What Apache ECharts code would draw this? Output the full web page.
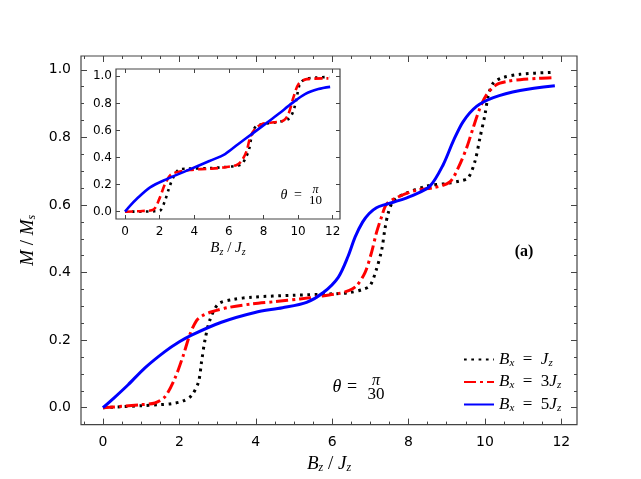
<!DOCTYPE html>
<html>
<head>
<meta charset="utf-8">
<script src="https://cdn.jsdelivr.net/npm/echarts@6/dist/echarts.min.js"></script>
</head>
<body style="margin: 0">
<div id="container" style="width: 641px; height: 479px"></div>
<script type="text/javascript">
    // main panel, theta = pi/30
    var mainJzX = [0, 0.5, 1.0, 1.5, 1.8, 2.1, 2.32, 2.5, 2.58, 2.67, 2.8, 3.02, 3.4, 3.89, 5.0, 6.0, 6.47, 6.8, 6.99, 7.16, 7.3, 7.38, 7.47, 7.6, 7.86, 8.47, 9.0, 9.35, 9.56, 9.74, 9.87, 10.0, 10.09, 10.22, 10.44, 10.92, 11.83];
    var mainJzY = [0, 0.003, 0.006, 0.009, 0.012, 0.02, 0.036, 0.076, 0.135, 0.2, 0.26, 0.307, 0.32, 0.327, 0.333, 0.337, 0.341, 0.35, 0.361, 0.41, 0.469, 0.528, 0.577, 0.612, 0.631, 0.656, 0.664, 0.671, 0.68, 0.73, 0.799, 0.867, 0.926, 0.961, 0.976, 0.987, 0.993];
    var main3JzX = [0, 0.5, 1.0, 1.36, 1.62, 1.88, 2.1, 2.28, 2.45, 2.6, 2.85, 3.3, 3.89, 4.5, 5.16, 5.7, 6.2, 6.45, 6.64, 6.86, 7.03, 7.16, 7.3, 7.42, 7.69, 8.21, 8.65, 9.08, 9.3, 9.52, 9.69, 9.87, 10.04, 10.3, 10.6, 10.92, 11.4, 11.83];
    var main3JzY = [0, 0.004, 0.009, 0.014, 0.032, 0.086, 0.154, 0.218, 0.258, 0.272, 0.284, 0.297, 0.307, 0.314, 0.322, 0.33, 0.339, 0.347, 0.361, 0.4, 0.459, 0.518, 0.567, 0.602, 0.622, 0.644, 0.651, 0.668, 0.71, 0.769, 0.828, 0.887, 0.926, 0.956, 0.966, 0.971, 0.975, 0.977];
    var main5JzX = [0, 0.3, 0.66, 1.1, 1.62, 2.0, 2.32, 3.1, 3.98, 4.7, 5.33, 5.77, 6.16, 6.42, 6.6, 6.8, 6.97, 7.16, 7.38, 7.6, 8.1, 8.56, 8.91, 9.17, 9.43, 9.78, 10.22, 10.92, 11.83];
    var main5JzY = [0, 0.03, 0.068, 0.118, 0.166, 0.195, 0.215, 0.253, 0.282, 0.296, 0.312, 0.341, 0.386, 0.449, 0.505, 0.55, 0.575, 0.592, 0.601, 0.608, 0.628, 0.656, 0.72, 0.789, 0.847, 0.892, 0.918, 0.939, 0.953];

    // inset, theta = pi/10
    var insetJzX = [0, 1.0, 1.7, 2.02, 2.31, 2.56, 2.79, 3.08, 3.6, 4.91, 5.8, 6.4, 6.74, 6.98, 7.17, 7.32, 7.45, 7.61, 8.0, 8.8, 9.44, 9.73, 9.92, 10.1, 10.4, 11.0, 11.8];
    var insetJzY = [0, 0.001, 0.003, 0.007, 0.081, 0.18, 0.254, 0.308, 0.318, 0.322, 0.33, 0.338, 0.352, 0.4, 0.463, 0.561, 0.61, 0.635, 0.648, 0.662, 0.684, 0.745, 0.844, 0.942, 0.979, 0.99, 0.995];
    var inset3JzX = [0, 1.0, 1.64, 2.02, 2.31, 2.7, 3.76, 5.0, 5.78, 6.45, 6.74, 7.03, 7.23, 7.51, 7.9, 8.6, 9.15, 9.44, 9.73, 10.02, 10.5, 11.75];
    var inset3JzY = [0, 0.005, 0.015, 0.106, 0.204, 0.278, 0.308, 0.318, 0.328, 0.345, 0.376, 0.45, 0.549, 0.61, 0.647, 0.66, 0.672, 0.721, 0.844, 0.942, 0.979, 0.985];
    var inset5JzX = [0, 0.3, 0.67, 1.45, 2.41, 3.57, 4.91, 5.78, 6.55, 7.32, 8.09, 8.86, 9.63, 10.4, 11.17, 11.85];
    var inset5JzY = [0, 0.045, 0.094, 0.18, 0.241, 0.303, 0.376, 0.426, 0.5, 0.573, 0.647, 0.721, 0.8, 0.869, 0.906, 0.922];

    // ticks
    var xMajor = [0, 2, 4, 6, 8, 10, 12];
    var xMinor = [-0.5, 0.5, 1, 1.5, 2.5, 3, 3.5, 4.5, 5, 5.5, 6.5, 7, 7.5, 8.5, 9, 9.5, 10.5, 11, 11.5, 12];
    var yMajor = [0, 0.2, 0.4, 0.6, 0.8, 1.0];
    var yMinor = [0.05, 0.1, 0.15, 0.25, 0.3, 0.35, 0.45, 0.5, 0.55, 0.65, 0.7, 0.75, 0.85, 0.9, 0.95];

    var legendNames = ["Bx = Jz", "Bx = 3Jz", "Bx = 5Jz"];
    var legendRich = ["{i|B}{s|x}{n|  =  }{i|J}{s|z}", "{i|B}{s|x}{n|  =  3}{i|J}{s|z}", "{i|B}{s|x}{n|  =  5}{i|J}{s|z}"];

    var sans = "DejaVu Sans, sans-serif";
    var serif = "Liberation Serif, Times New Roman, serif";
    var frameColor = "#444";

    function zip(xs, ys) {
        var out = [];
        for (var i = 0; i < xs.length; i++) out.push([xs[i], ys[i]]);
        return out;
    }

    var subRich = {
        i: {fontFamily: serif, fontStyle: "italic", fontSize: 19, color: "#000"},
        s: {fontFamily: serif, fontStyle: "italic", fontSize: 12, color: "#000", padding: [8, 0, 0, 0]},
        n: {fontFamily: serif, fontSize: 19, color: "#000"}
    };
    var subRichSmall = {
        i: {fontFamily: serif, fontStyle: "italic", fontSize: 15, color: "#000"},
        s: {fontFamily: serif, fontStyle: "italic", fontSize: 10, color: "#000", padding: [7, 0, 0, 0]},
        n: {fontFamily: serif, fontSize: 15, color: "#000"}
    };
    var legendTextRich = {
        i: {fontFamily: serif, fontStyle: "italic", fontSize: 17, color: "#000"},
        s: {fontFamily: serif, fontStyle: "italic", fontSize: 11, color: "#000", padding: [7, 0, 0, 0]},
        n: {fontFamily: serif, fontSize: 17, color: "#000"}
    };

    function makeAxis(o) {
        var ax = {
            type: "value", gridIndex: o.grid, position: o.pos, min: o.min, max: o.max,
            axisLine: {show: false, onZero: false},
            splitLine: {show: false},
            axisTick: {show: true, inside: true, length: o.len, customValues: o.ticks,
                lineStyle: {color: frameColor, width: 1}},
            axisLabel: {show: false}
        };
        if (o.labels) {
            ax.axisLabel = {show: true, customValues: o.ticks, formatter: o.fmt, fontSize: o.fs,
                fontFamily: sans, color: "#000", margin: o.margin};
        }
        if (o.name) {
            ax.name = o.name;
            ax.nameLocation = "middle";
            ax.nameGap = o.nameGap;
            ax.nameTextStyle = {rich: o.rich};
        }
        return ax;
    }

    var fmtX = function (v) { return String(v); };
    var fmtY = function (v) { return v.toFixed(1); };

    var mainX = {min: -0.575, max: 12.41};
    var mainY = {min: -0.05, max: 1.041};
    var insX = {min: -0.52, max: 12.42};
    var insY = {min: -0.054, max: 1.054};

    var xAxes = [
        makeAxis({grid: 0, pos: "bottom", min: mainX.min, max: mainX.max, len: 6, ticks: xMajor, labels: true, fmt: fmtX, fs: 14, margin: 11,
            name: "{i|B}{s|z}{n| / }{i|J}{s|z}", nameGap: 27, rich: subRich}),
        makeAxis({grid: 0, pos: "bottom", min: mainX.min, max: mainX.max, len: 3, ticks: xMinor}),
        makeAxis({grid: 0, pos: "top", min: mainX.min, max: mainX.max, len: 6, ticks: xMajor}),
        makeAxis({grid: 0, pos: "top", min: mainX.min, max: mainX.max, len: 3, ticks: xMinor}),
        makeAxis({grid: 1, pos: "bottom", min: insX.min, max: insX.max, len: 4, ticks: xMajor, labels: true, fmt: fmtX, fs: 12, margin: 7,
            name: "{i|B}{s|z}{n| / }{i|J}{s|z}", nameGap: 21, rich: subRichSmall}),
        makeAxis({grid: 1, pos: "top", min: insX.min, max: insX.max, len: 4, ticks: xMajor})
    ];
    var yAxes = [
        makeAxis({grid: 0, pos: "left", min: mainY.min, max: mainY.max, len: 6, ticks: yMajor, labels: true, fmt: fmtY, fs: 14, margin: 10,
            name: "{i|M}{n| / }{i|M}{s|s}", nameGap: 28, rich: subRich}),
        makeAxis({grid: 0, pos: "left", min: mainY.min, max: mainY.max, len: 3, ticks: yMinor}),
        makeAxis({grid: 0, pos: "right", min: mainY.min, max: mainY.max, len: 6, ticks: yMajor}),
        makeAxis({grid: 0, pos: "right", min: mainY.min, max: mainY.max, len: 3, ticks: yMinor}),
        makeAxis({grid: 1, pos: "left", min: insY.min, max: insY.max, len: 4, ticks: yMajor, labels: true, fmt: fmtY, fs: 12, margin: 4}),
        makeAxis({grid: 1, pos: "right", min: insY.min, max: insY.max, len: 4, ticks: yMajor})
    ];

    function lineSeries(name, xs, ys, color, type, width, gi) {
        return {
            name: name, type: "line", xAxisIndex: gi, yAxisIndex: gi,
            data: zip(xs, ys), showSymbol: false, symbol: "none",
            smooth: 0.3, z: 3,
            lineStyle: {color: color, type: type, width: width, cap: "butt"},
            itemStyle: {color: color}
        };
    }

    var dotted = [2.7, 4.6];
    var dashDot = [12, 4, 3, 4];

    var series = [
        lineSeries(legendNames[0], mainJzX, mainJzY, "#000000", dotted, 3, 0),
        lineSeries(legendNames[1], main3JzX, main3JzY, "#ff0000", dashDot, 3, 0),
        lineSeries(legendNames[2], main5JzX, main5JzY, "#0000ff", "solid", 3, 0),
        lineSeries("insetJz", insetJzX, insetJzY, "#000000", [2.5, 4.5], 2.6, 4),
        lineSeries("inset3Jz", inset3JzX, inset3JzY, "#ff0000", [8, 4], 2.6, 4),
        lineSeries("inset5Jz", inset5JzX, inset5JzY, "#0000ff", "solid", 2.6, 4)
    ];

    var myChart = echarts.init(document.getElementById("container"));
    var option = {
        animation: false,
        backgroundColor: "#ffffff",
        grid: [
            {left: 81, top: 56, width: 496, height: 370, show: true, borderColor: frameColor, borderWidth: 1.2, backgroundColor: "transparent"},
            {left: 116, top: 69, width: 224, height: 150, show: true, borderColor: frameColor, borderWidth: 1.2, backgroundColor: "#ffffff"}
        ],
        xAxis: xAxes,
        yAxis: yAxes,
        legend: {
            data: legendNames,
            orient: "vertical",
            left: 458, top: 346,
            itemWidth: 30, itemHeight: 14, itemGap: 5,
            itemStyle: {opacity: 0},
            textStyle: {rich: legendTextRich},
            formatter: function (name) { return legendRich[legendNames.indexOf(name)]; }
        },
        graphic: [
            {type: "text", x: 524, y: 252, style: {text: "(a)", font: "bold 16px " + serif, fill: "#000", align: "center", verticalAlign: "middle"}},
            // theta = pi/30
            {type: "text", x: 337, y: 387, style: {text: "θ", font: "italic 18px " + serif, fill: "#000", align: "center", verticalAlign: "middle"}},
            {type: "text", x: 352, y: 387, style: {text: "=", font: "18px " + serif, fill: "#000", align: "center", verticalAlign: "middle"}},
            {type: "text", x: 376, y: 381, style: {text: "π", font: "italic 16px " + serif, fill: "#000", align: "center", verticalAlign: "middle"}},
            {type: "text", x: 376, y: 395, style: {text: "30", font: "17px " + serif, fill: "#000", align: "center", verticalAlign: "middle"}},
            // theta = pi/10
            {type: "text", x: 284, y: 195, style: {text: "θ", font: "italic 14px " + serif, fill: "#000", align: "center", verticalAlign: "middle"}},
            {type: "text", x: 298, y: 195, style: {text: "=", font: "14px " + serif, fill: "#000", align: "center", verticalAlign: "middle"}},
            {type: "text", x: 315.5, y: 190, style: {text: "π", font: "italic 12px " + serif, fill: "#000", align: "center", verticalAlign: "middle"}},
            {type: "text", x: 315.5, y: 201, style: {text: "10", font: "13px " + serif, fill: "#000", align: "center", verticalAlign: "middle"}}
        ],
        series: series
    };

    myChart.setOption(option);
</script>
</body>
</html>
